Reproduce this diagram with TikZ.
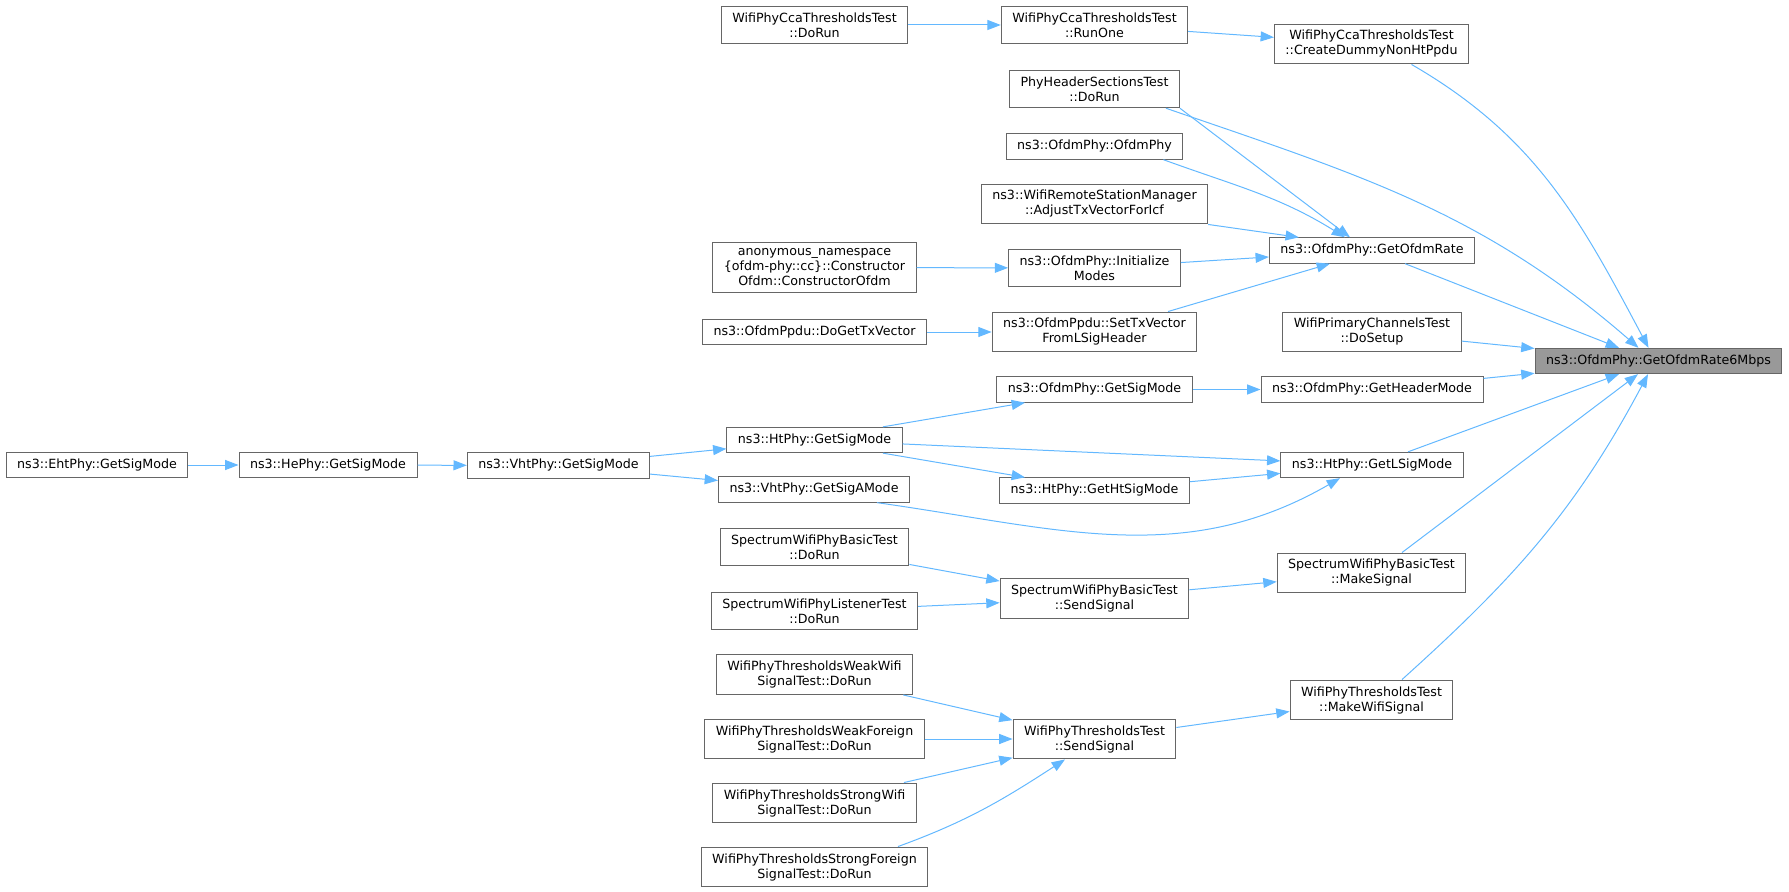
\documentclass[tikz,border=0pt]{standalone}
\usepackage{fontspec}
\setmainfont{DejaVu Sans}
\usepackage{tikz}
\usetikzlibrary{positioning,calc,arrows.meta}
\definecolor{edgeblue}{HTML}{63B8FF}
\definecolor{boxgray}{HTML}{666666}
\definecolor{mainfill}{HTML}{999999}

\begin{document}
\begin{tikzpicture}[x=0.75pt, y=-0.75pt, >={Triangle[length=10pt,width=7.5pt]}, every edge/.style={draw=edgeblue, line width=0.75pt, ->}]
		\tikzstyle{every node}=[draw=boxgray, fill=white, line width=0.75pt, align=center, inner xsep=8.25pt, inner ysep=4.75pt, minimum height=19pt, font=\fontsize{9.5}{11.25}\selectfont]
		\tikzstyle{target}=[fill=mainfill]
		\useasboundingbox (0,0) rectangle (1789,892);
		\begin{scope}
			\node (ccarun) at (814.5,25) {WifiPhyCcaThresholdsTest\\::DoRun};
			\node (runone) at (1094.5,25) {WifiPhyCcaThresholdsTest\\::RunOne};
			\node (dummy) at (1371.5,44) {WifiPhyCcaThresholdsTest\\::CreateDummyNonHtPpdu};
			\node (phyhdr) at (1094.5,89) {PhyHeaderSectionsTest\\::DoRun};
			\node (ofdmctor) at (1094.5,146.5) {ns3::OfdmPhy::OfdmPhy};
			\node (adjust) at (1094.5,204) {ns3::WifiRemoteStationManager\\::AdjustTxVectorForIcf};
			\node (anon) at (814.5,267.5) {anonymous\_namespace\\\{ofdm-phy::cc\}::Constructor\\Ofdm::ConstructorOfdm};
			\node (initmodes) at (1094.5,268) {ns3::OfdmPhy::Initialize\\Modes};
			\node (ofdmrate) at (1372,250.5) {ns3::OfdmPhy::GetOfdmRate};
			\node (gettxv) at (814.5,332) {ns3::OfdmPpdu::DoGetTxVector};
			\node (settxv) at (1094.5,332) {ns3::OfdmPpdu::SetTxVector\\FromLSigHeader};
			\node (primary) at (1372,332) {WifiPrimaryChannelsTest\\::DoSetup};
			\node[target] (rate6) at (1658.5,361) {ns3::OfdmPhy::GetOfdmRate6Mbps};
			\node (ofdmsig) at (1094.5,389.5) {ns3::OfdmPhy::GetSigMode};
			\node (hdrmode) at (1372,389.5) {ns3::OfdmPhy::GetHeaderMode};
			\node (htsig) at (814.5,440) {ns3::HtPhy::GetSigMode};
			\node (lsig) at (1372,465) {ns3::HtPhy::GetLSigMode};
			\node (htsigmode) at (1094.5,490.5) {ns3::HtPhy::GetHtSigMode};
			\node (vhtsiga) at (814,489.5) {ns3::VhtPhy::GetSigAMode};
			\node (vhtsig) at (558.5,465.5) {ns3::VhtPhy::GetSigMode};
			\node (hesig) at (328,465) {ns3::HePhy::GetSigMode};
			\node (ehtsig) at (97,465) {ns3::EhtPhy::GetSigMode};
			\node (specrun) at (814.5,547) {SpectrumWifiPhyBasicTest\\::DoRun};
			\node (listen) at (814.5,611) {SpectrumWifiPhyListenerTest\\::DoRun};
			\node (specsend) at (1094.5,598.5) {SpectrumWifiPhyBasicTest\\::SendSignal};
			\node (mksig) at (1371.5,573) {SpectrumWifiPhyBasicTest\\::MakeSignal};
			\node (weakwifi) at (814.5,674.5) {WifiPhyThresholdsWeakWifi\\SignalTest::DoRun};
			\node (weakfor) at (814.5,739) {WifiPhyThresholdsWeakForeign\\SignalTest::DoRun};
			\node (strongwifi) at (814.5,803) {WifiPhyThresholdsStrongWifi\\SignalTest::DoRun};
			\node (strongfor) at (814.5,867) {WifiPhyThresholdsStrongForeign\\SignalTest::DoRun};
			\node (thsend) at (1094.5,739) {WifiPhyThresholdsTest\\::SendSignal};
			\node (mkwifi) at (1371.5,700) {WifiPhyThresholdsTest\\::MakeWifiSignal};

			% top part
			\path (ccarun) edge (runone); \path (runone) edge (dummy);
			\path ($(dummy.south)+(40,0)$) edge[out=-30,in=118] ($(rate6.north)+(-10,0)$);
			\path (phyhdr.south east) edge ($(ofdmrate.north)+(-22,0)$);
			\path ($(phyhdr.south east)+(-14,0)$) edge[out=-19,in=139] ($(rate6.north)+(-20,0)$);
			\path ($(ofdmctor.south east)+(-20,0)$) edge[out=-20,in=148] ($(ofdmrate.north)+(-27,0)$);
			\path (adjust.south east) edge ($(ofdmrate.north west)+(30,0)$);
			\path (anon) edge (initmodes); \path (initmodes) edge (ofdmrate);
			\path (gettxv) edge (settxv);
			\path ($(settxv.north)+(73.5,0)$) edge ($(ofdmrate.south)+(-42,0)$);
			\path ($(ofdmrate.south)+(33,0)$) edge ($(rate6.north)+(-39.5,0)$);
			\path (primary) edge (rate6); \path (hdrmode) edge (rate6);
			\path (ofdmsig) edge (hdrmode);

			% sig modes
			\path ($(htsig.north)+(68.5,0)$) edge ($(ofdmsig.south)+(-69.5,0)$);
			\path (htsig) edge (lsig);
			\path ($(htsig.south)+(68.5,0)$) edge ($(htsigmode.north)+(-69.5,0)$);
			\path (htsigmode) edge (lsig);
			\path ($(vhtsiga.south)+(63,0)$) edge[out=-8,in=-150] ($(lsig.south)+(-32,0)$);
			\path ($(lsig.north)+(36,0)$) edge ($(rate6.south)+(-39.5,0)$);
			\path (vhtsig) edge (htsig); \path (vhtsig) edge (vhtsiga);
			\path (hesig) edge (vhtsig); \path (ehtsig) edge (hesig);

			% signals
			\path (specrun) edge (specsend); \path (listen) edge (specsend);
			\path (specsend) edge (mksig);
			\path ($(mksig.north)+(30.5,0)$) edge ($(rate6.south)+(-20.5,0)$);
			\path (weakwifi) edge (thsend); \path (weakfor) edge (thsend);
			\path (strongwifi) edge (thsend);
			\path ($(strongfor.north)+(83.5,0)$) edge[out=20,in=-147] ($(thsend.south)+(-29.5,0)$);
			\path (thsend) edge (mkwifi);
			\path ($(mkwifi.north)+(30.5,0)$) edge[out=42,in=-118] ($(rate6.south)+(-10.5,0)$);
		\end{scope}
	\end{tikzpicture}
\end{document}
